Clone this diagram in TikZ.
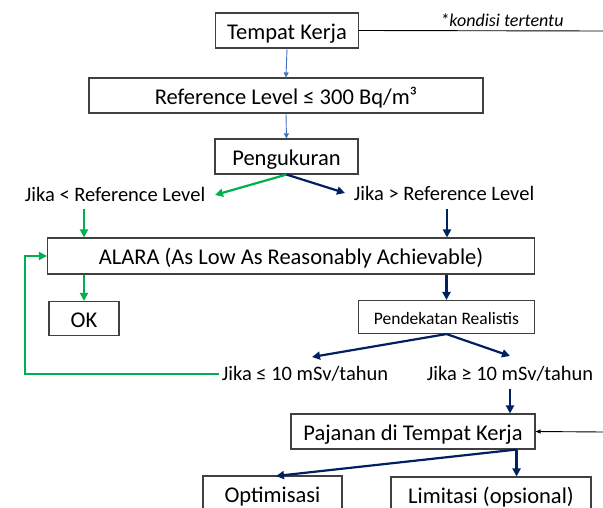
\documentclass[tikz,border=0pt]{standalone}
\usepackage{fontspec}
\setmainfont{Carlito}
\usetikzlibrary{arrows.meta,calc}
\definecolor{lgreen}{HTML}{00B050}
\definecolor{navy}{HTML}{002060}
\definecolor{lblue}{HTML}{4472C4}
\definecolor{boxgray}{HTML}{404040}
\begin{document}
\begin{tikzpicture}[x=1pt,y=-1pt,
  box/.style={draw=boxgray,line width=1.1pt,fill=white,inner sep=0pt,text height=20pt,text depth=2.5pt,font=\fontsize{22.5}{26}\selectfont},
  lbl/.style={inner sep=1pt,font=\fontsize{20.5}{24}\selectfont},
  gar/.style={draw=lgreen,line width=2.2pt,-{Triangle[length=8pt,width=8pt]}},
  nar/.style={draw=navy,line width=2.2pt,-{Triangle[length=8pt,width=8pt]}},
  bar/.style={draw=lblue,line width=0.9pt,-{Triangle[length=5pt,width=5pt]}},
  kar/.style={draw=black,line width=0.9pt,-{Triangle[length=5pt,width=4pt]}}]
\useasboundingbox (0,0) rectangle (603,508);
\fill[white] (0,0) rectangle (603,508);
% boxes
\node[box,minimum width=143pt,minimum height=35pt] (tk) at (287,30.5) {Tempat Kerja};
\node[box,minimum width=394pt,minimum height=35pt] (rl) at (286,95.5) {Reference Level ≤ 300 Bq/m³};
\node[box,minimum width=143pt,minimum height=35pt] (pg) at (286.5,156.5) {Pengukuran};
\node[box,minimum width=487pt,minimum height=36pt] (al) at (291,256) {ALARA (As Low As Reasonably Achievable)};
\node[box,minimum width=70pt,minimum height=34pt] (ok) at (84,318.5) {OK};
\node[box,minimum width=176pt,minimum height=33pt,text height=16pt,text depth=1.7pt,font=\fontsize{17.5}{20}\selectfont] (pr) at (446.5,317) {Pendekatan Realistis};
\node[box,minimum width=244pt,minimum height=35pt] (pj) at (413,431.5) {Pajanan di Tempat Kerja};
\node[box,minimum width=139pt,minimum height=35pt] (op) at (272.5,493.5) {Optimisasi};
\node[box,minimum width=200pt,minimum height=35pt] (lm) at (491,494.5) {Limitasi (opsional)};
% labels
\node[lbl] (lt) at (115,194) {Jika < Reference Level};
\node[lbl] (gt) at (444,193) {Jika > Reference Level};
\node[lbl] (le) at (305,374) {Jika ≤ 10 mSv/tahun};
\node[lbl] (ge) at (510,374) {Jika ≥ 10 mSv/tahun};
\node[lbl,font=\fontsize{18}{20}\selectfont\itshape] (kt) at (502,20) {*kondisi tertentu};
% coordinates
\coordinate (rout) at (603,31);
\coordinate (rin) at (603,432);
\coordinate (g1) at (84,209);
\coordinate (n1) at (447,209);
\coordinate (ltip) at (215,195);
\coordinate (gtip) at (345,193);
\coordinate (letip) at (312,357);
\coordinate (getip) at (510,356);
\coordinate (ge1) at (510,389);
\coordinate (lp) at (25,374);
\coordinate (pjs) at ($(pj.south east)+(-19,0)$);
\coordinate (optip) at (276,476);
% connectors
\draw[black,line width=0.9pt] (tk.east) -- (rout);
\draw[bar] (tk.south) -- (rl.north);
\draw[bar] (rl.south) -- (pg.north);
\draw[gar] (pg.south) -- (ltip);
\draw[nar] (pg.south) -- (gtip);
\draw[gar] (g1) -- (g1 |- al.north);
\draw[nar] (n1) -- (n1 |- al.north);
\draw[gar] (ok.north |- al.south) -- (ok.north);
\draw[nar] (pr.north |- al.south) -- (pr.north);
\draw[nar] (pr.south) -- (letip);
\draw[nar] (pr.south) -- (getip);
\draw[gar] ([xshift=-2pt]le.west) -- (lp) |- (al.west);
\draw[nar] (ge1) -- (ge1 |- pj.north);
\draw[kar] (rin) -- (pj.east);
\draw[nar] (pjs) -- (optip);
\draw[nar] (pjs) -- (pjs |- lm.north);
\end{tikzpicture}
\end{document}
